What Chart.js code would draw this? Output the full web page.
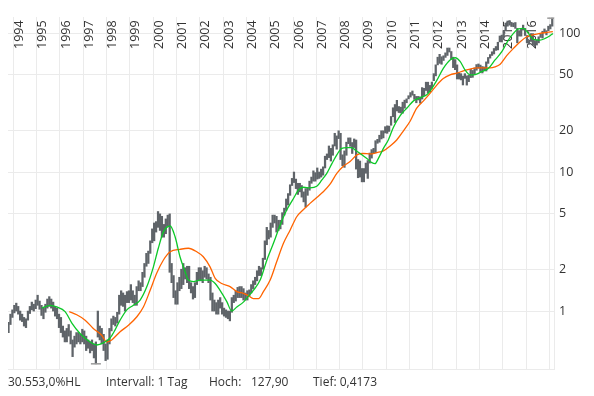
<!DOCTYPE html>
<html>
<head>
<meta charset="utf-8">
<script src="https://cdn.jsdelivr.net/npm/chart.js@4.4.1/dist/chart.umd.min.js"></script>
<style>
  html, body { margin: 0; padding: 0; background: #fff; }
</style>
</head>
<body>
<canvas id="chart" width="594" height="396"></canvas>
<script>
// monthly high / low bars, first month is October 1993
const startYear = 1993;
const startMonth = 10;

const highs = [
  0.83, 0.95, 1.02,                                                  // 1993 Oct-Dec
  1.10, 1.14, 1.08, 1.00, 0.95, 0.90, 0.88, 1.00, 1.08, 1.16, 1.12, 1.20, // 1994
  1.30, 1.18, 1.10, 1.05, 1.12, 1.22, 1.27, 1.22, 1.16, 1.08, 1.05, 0.95, // 1995
  0.90, 0.78, 0.72, 0.75, 0.80, 0.72, 0.62, 0.66, 0.70, 0.70, 0.68, 0.74, // 1996
  0.72, 0.66, 0.62, 0.60, 0.62, 0.58, 0.60, 1.00, 0.78, 0.75, 0.68, 0.58, // 1997
  0.62, 0.75, 0.88, 0.92, 0.90, 0.98, 1.30, 1.40, 1.35, 1.30, 1.38, 1.40, // 1998
  1.55, 1.40, 1.30, 1.50, 1.65, 1.60, 1.90, 2.20, 2.60, 2.70, 3.20, 3.90, // 1999
  4.30, 4.40, 5.20, 5.00, 4.80, 4.20, 4.60, 4.90, 5.00, 2.20, 1.80, 1.40, // 2000
  1.60, 1.75, 2.00, 2.20, 2.05, 2.10, 2.10, 1.60, 1.50, 1.60, 1.90, 2.05, // 2001
  2.05, 1.95, 2.10, 2.05, 1.85, 1.75, 1.35, 1.20, 1.15, 1.20, 1.25, 1.15, // 2002
  1.05, 1.02, 1.00, 1.00, 1.25, 1.30, 1.40, 1.48, 1.50, 1.50, 1.45, 1.35, // 2003
  1.40, 1.42, 1.55, 1.65, 1.75, 1.95, 2.10, 2.05, 2.40, 3.20, 4.00, 3.80, // 2004
  4.30, 4.90, 4.90, 4.80, 4.50, 4.50, 5.10, 5.50, 6.40, 7.00, 8.10, 9.00, // 2005
  10.0, 8.90, 8.30, 8.30, 8.00, 7.20, 7.60, 7.70, 8.60, 9.20, 10.2, 9.90, // 2006
  10.7, 10.0, 10.5, 10.9, 13.0, 13.5, 15.4, 14.8, 15.7, 19.0, 18.2, 19.8, // 2007
  19.0, 13.3, 14.2, 16.4, 17.6, 17.6, 16.3, 17.3, 17.0, 12.3, 12.0, 10.6, // 2008
  10.6, 11.6, 12.1, 13.7, 14.5, 14.8, 16.8, 17.2, 18.4, 19.8, 19.8, 21.2, // 2009
  21.5, 21.4, 25.1, 29.0, 30.6, 32.8, 29.6, 29.3, 31.8, 32.9, 33.6, 35.4, // 2010
  37.3, 38.3, 36.2, 35.0, 35.0, 34.7, 40.5, 40.0, 44.3, 44.3, 42.0, 44.4, // 2011
  51.0, 59.0, 67.0, 70.3, 67.5, 68.6, 72.0, 78.0, 78.0, 73.6, 67.0, 64.4, // 2012
  59.0, 51.5, 51.0, 49.0, 51.0, 49.2, 49.6, 54.8, 53.8, 56.2, 59.3, 59.9, // 2013
  58.8, 57.4, 57.0, 62.0, 66.7, 70.0, 73.3, 77.4, 80.0, 85.8, 95.2, 96.7, // 2014
  104, 118, 122, 123, 119, 118, 119, 108, 104, 107, 114, 108,             // 2015
  96, 88, 99, 99, 88, 89, 94, 98, 103, 107, 104, 112,                     // 2016
  115, 127.9                                                              // 2017 Jan-Feb
];

const lows = [
  0.70, 0.80, 0.90,
  0.97, 1.00, 0.95, 0.86, 0.84, 0.78, 0.76, 0.86, 0.96, 1.02, 1.00, 1.04,
  1.10, 1.03, 0.93, 0.88, 0.98, 1.05, 1.08, 1.05, 1.00, 0.92, 0.88, 0.76,
  0.70, 0.65, 0.60, 0.60, 0.66, 0.58, 0.47, 0.55, 0.58, 0.60, 0.58, 0.60,
  0.58, 0.52, 0.54, 0.50, 0.52, 0.46, 0.4173, 0.65, 0.62, 0.58, 0.52, 0.44,
  0.45, 0.58, 0.72, 0.80, 0.78, 0.82, 0.95, 1.10, 1.08, 1.00, 1.15, 1.15,
  1.20, 1.15, 1.10, 1.10, 1.40, 1.40, 1.50, 1.75, 2.10, 2.20, 2.60, 3.10,
  3.20, 3.70, 4.00, 3.80, 3.40, 3.40, 3.60, 4.10, 1.90, 1.60, 1.25, 1.12,
  1.12, 1.40, 1.45, 1.55, 1.70, 1.60, 1.45, 1.35, 1.22, 1.25, 1.55, 1.65,
  1.65, 1.60, 1.75, 1.70, 1.60, 1.20, 1.00, 1.00, 0.95, 0.95, 1.05, 0.95,
  0.92, 0.90, 0.88, 0.85, 0.98, 1.15, 1.18, 1.25, 1.25, 1.25, 1.20, 1.20,
  1.20, 1.28, 1.35, 1.45, 1.55, 1.65, 1.80, 1.80, 2.00, 2.35, 3.00, 3.30,
  3.40, 4.00, 4.30, 3.70, 3.80, 3.90, 4.20, 4.90, 5.30, 5.80, 6.80, 8.00,
  8.40, 7.60, 6.90, 7.20, 6.60, 6.10, 5.60, 6.80, 7.40, 8.30, 8.60, 8.60,
  8.90, 9.00, 9.20, 9.50, 10.7, 12.3, 12.7, 12.0, 13.2, 15.4, 14.6, 17.4,
  12.3, 11.1, 10.8, 13.2, 16.0, 15.3, 13.6, 15.0, 10.5, 9.10, 9.20, 8.50,
  8.50, 9.80, 9.00, 11.6, 12.6, 13.7, 13.8, 16.1, 16.4, 17.3, 17.6, 19.1,
  19.0, 19.6, 21.7, 25.0, 22.7, 27.5, 26.8, 26.6, 26.5, 28.8, 31.5, 33.6,
  34.6, 35.7, 33.3, 31.5, 33.0, 31.3, 33.5, 35.5, 38.6, 37.0, 37.8, 40.0,
  45.4, 49.2, 59.0, 60.5, 59.6, 63.5, 66.8, 69.0, 73.0, 65.0, 56.4, 54.5,
  46.7, 46.7, 46.0, 42.3, 47.2, 42.2, 44.7, 47.8, 48.0, 50.4, 54.0, 55.8,
  52.5, 51.6, 53.8, 53.3, 60.5, 66.0, 69.0, 70.7, 75.0, 75.6, 86.4, 86.2,
  92, 104, 112, 114, 112, 111, 108, 85, 95, 95, 105, 96,
  85, 83, 87, 82, 80, 82, 85, 93, 92, 101, 97, 104,
  107, 112
];

// moving averages, [year, value]
const greenAvg = [
  [1995.22, 1.05], [1995.58, 1.10], [1995.86, 1.07], [1996.22, 0.99], [1996.51, 0.82],
  [1996.86, 0.69], [1997.29, 0.60], [1997.58, 0.57], [1997.86, 0.59], [1998.15, 0.64],
  [1998.36, 0.73], [1998.58, 0.86], [1998.87, 1.02], [1999.15, 1.10], [1999.44, 1.20],
  [1999.73, 1.50], [2000.01, 2.08], [2000.22, 2.83], [2000.44, 3.71], [2000.73, 4.09],
  [2000.94, 3.42], [2001.15, 2.46], [2001.37, 1.92], [2001.51, 1.67], [2001.73, 1.63],
  [2002.01, 1.67], [2002.44, 1.67], [2002.66, 1.58], [2002.87, 1.41], [2003.16, 1.17],
  [2003.37, 1.00], [2003.59, 1.07], [2003.87, 1.16], [2004.02, 1.24], [2004.30, 1.41],
  [2004.59, 1.67], [2004.88, 2.33], [2005.16, 3.07], [2005.45, 4.16], [2005.73, 5.33],
  [2006.02, 6.45], [2006.23, 7.42], [2006.45, 7.77], [2006.73, 7.70], [2007.02, 7.90],
  [2007.24, 8.77], [2007.45, 9.78], [2007.67, 11.5], [2007.88, 13.3], [2008.09, 14.8],
  [2008.31, 15.0], [2008.52, 15.0], [2008.67, 14.4], [2008.88, 13.6], [2009.17, 12.5],
  [2009.38, 11.7], [2009.52, 11.5], [2009.66, 12.5], [2009.88, 14.8], [2010.09, 17.0],
  [2010.31, 21.0], [2010.60, 25.5], [2010.90, 29.0], [2011.17, 32.5], [2011.45, 34.2],
  [2011.74, 36.0], [2011.96, 40.0], [2012.17, 45.6], [2012.45, 55.7], [2012.74, 64.0],
  [2012.96, 66.4], [2013.17, 62.5], [2013.38, 54.3], [2013.60, 50.0], [2013.82, 50.3],
  [2014.10, 52.7], [2014.39, 55.7], [2014.67, 64.0], [2014.96, 73.4], [2015.24, 88.9],
  [2015.46, 99.5], [2015.67, 107], [2015.89, 108], [2016.10, 99.5], [2016.32, 90.0],
  [2016.60, 89.0], [2016.82, 91.4], [2017.03, 95.6], [2017.15, 99.0]
];

const orangeAvg = [
  [1996.40, 0.99], [1996.72, 0.94], [1997.08, 0.86], [1997.43, 0.75], [1997.79, 0.67],
  [1998.01, 0.60], [1998.22, 0.62], [1998.58, 0.71], [1998.94, 0.79], [1999.30, 0.91],
  [1999.58, 1.07], [1999.87, 1.41], [2000.15, 1.87], [2000.44, 2.33], [2000.73, 2.67],
  [2001.15, 2.78], [2001.51, 2.83], [2001.87, 2.67], [2002.15, 2.46], [2002.44, 2.08],
  [2002.66, 1.72], [2002.94, 1.58], [2003.30, 1.50], [2003.59, 1.38], [2003.87, 1.34],
  [2004.09, 1.29], [2004.30, 1.23], [2004.52, 1.23], [2004.73, 1.38], [2005.02, 1.67],
  [2005.30, 2.26], [2005.59, 3.07], [2005.88, 3.83], [2006.16, 4.77], [2006.45, 5.38],
  [2006.73, 5.95], [2007.02, 6.57], [2007.30, 7.21], [2007.59, 8.18], [2007.88, 9.78],
  [2008.16, 11.0], [2008.45, 11.9], [2008.74, 13.3], [2009.02, 13.6], [2009.31, 13.5],
  [2009.60, 13.8], [2009.88, 14.2], [2010.17, 15.4], [2010.45, 17.0], [2010.74, 19.8],
  [2011.03, 23.3], [2011.31, 28.8], [2011.60, 32.5], [2011.88, 36.8], [2012.17, 42.2],
  [2012.45, 47.0], [2012.74, 50.0], [2013.03, 51.5], [2013.31, 53.4], [2013.60, 55.0],
  [2013.89, 56.2], [2014.17, 56.2], [2014.46, 56.2], [2014.67, 57.1], [2014.89, 59.6],
  [2015.18, 69.0], [2015.46, 77.5], [2015.75, 86.7], [2016.03, 94.0], [2016.32, 97.2],
  [2016.60, 99.5], [2016.89, 101], [2017.15, 102.5]
];

const years = [1994, 1995, 1996, 1997, 1998, 1999, 2000, 2001, 2002, 2003, 2004, 2005,
               2006, 2007, 2008, 2009, 2010, 2011, 2012, 2013, 2014, 2015, 2016, 2017];
const priceTicks = [1, 2, 5, 10, 20, 50, 100];

const footer = [
  ['30.553,0%HL', 8],
  ['Intervall: 1 Tag', 106],
  ['Hoch:', 209],
  ['127,90', 251],
  ['Tief: 0,4173', 313]
];

const GRID = '#ebebeb';
const TEXT = '#333333';
const FONT = "'Open Sans', sans-serif";

const monthX = i => startYear + (startMonth - 1 + i + 0.5) / 12;
const bars = highs.map((h, i) => ({ x: monthX(i), y: [lows[i], h] }));

const hiIdx = highs.indexOf(Math.max(...highs));
const loIdx = lows.indexOf(Math.min(...lows));
const extremes = [
  { x: monthX(hiIdx), y: highs[hiIdx] },
  { x: monthX(loIdx), y: lows[loIdx] }
];

const footerPlugin = {
  id: 'footer',
  afterDraw(chart) {
    const c = chart.ctx;
    c.save();
    c.font = "12px " + FONT;
    c.fillStyle = TEXT;
    c.textBaseline = 'alphabetic';
    footer.forEach(([t, x]) => c.fillText(t, x, 386));
    c.restore();
  }
};

const ctx = document.getElementById('chart').getContext('2d');

new Chart(ctx, {
  type: 'line',
  data: {
    datasets: [
      {
        type: 'scatter',
        data: extremes,
        pointStyle: 'line',
        pointRadius: 5,
        pointBorderWidth: 1.5,
        borderColor: '#9a9a9a',
        order: 0
      },
      {
        data: greenAvg.map(([x, y]) => ({ x, y })),
        borderColor: '#0cc828',
        borderWidth: 1.3,
        pointRadius: 0,
        cubicInterpolationMode: 'monotone',
        order: 1
      },
      {
        data: orangeAvg.map(([x, y]) => ({ x, y })),
        borderColor: '#ff6400',
        borderWidth: 1.3,
        pointRadius: 0,
        cubicInterpolationMode: 'monotone',
        order: 2
      },
      {
        type: 'bar',
        data: bars,
        backgroundColor: '#5f6469',
        barThickness: 1.6,
        grouped: false,
        order: 3
      }
    ]
  },
  options: {
    responsive: false,
    animation: false,
    layout: { padding: { left: 8, right: 0, top: 0, bottom: 27 } },
    plugins: { legend: { display: false }, tooltip: { enabled: false } },
    scales: {
      x: {
        type: 'linear',
        position: 'top',
        min: 1993.77,
        max: 2017.2,
        offset: false,
        grid: { color: GRID, drawTicks: false, offset: false },
        border: { display: false },
        afterBuildTicks: s => { s.ticks = years.map(v => ({ value: v })); },
        afterFit: s => { s.height = 17; s.paddingLeft = 0; s.paddingRight = 0; },
        ticks: {
          autoSkip: false,
          minRotation: 90,
          maxRotation: 90,
          mirror: true,
          padding: 32,
          labelOffset: 6,
          color: TEXT,
          font: { family: FONT, size: 12.5 },
          callback: v => (v === 2017 ? '' : String(v))
        }
      },
      xb: {
        type: 'linear',
        position: 'bottom',
        min: 1993.77,
        max: 2017.2,
        grid: { display: false },
        ticks: { display: false },
        border: { display: true, color: GRID },
        afterFit: s => { s.height = 0; s.paddingLeft = 0; s.paddingRight = 0; }
      },
      y: {
        type: 'logarithmic',
        position: 'right',
        min: 0.383,
        max: 130.4,
        grid: { color: GRID, drawTicks: false },
        border: { display: true, color: GRID },
        afterBuildTicks: s => { s.ticks = priceTicks.map(v => ({ value: v })); },
        afterFit: s => { s.width = 40; s.paddingTop = 0; s.paddingBottom = 0; },
        ticks: {
          padding: 5,
          color: TEXT,
          font: { family: FONT, size: 12.5 },
          callback: v => String(v)
        }
      }
    }
  },
  plugins: [footerPlugin]
});
</script>
</body>
</html>
